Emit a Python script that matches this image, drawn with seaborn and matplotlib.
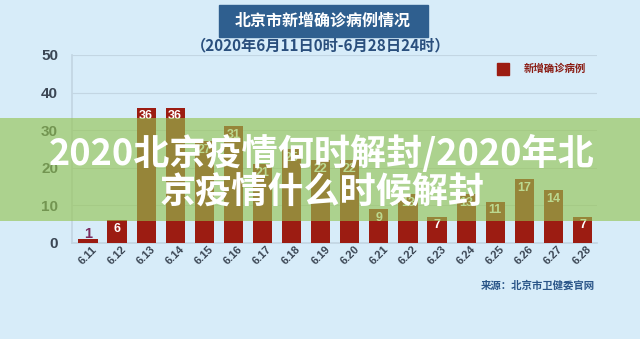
import matplotlib
matplotlib.use("Agg")
import matplotlib.pyplot as plt
import seaborn as sns
import pandas as pd
from matplotlib.patches import Rectangle

dates = ["6.11", "6.12", "6.13", "6.14", "6.15", "6.16", "6.17", "6.18", "6.19",
         "6.20", "6.21", "6.22", "6.23", "6.24", "6.25", "6.26", "6.27", "6.28"]
cases = [1, 6, 36, 36, 27, 31, 21, 25, 22, 22, 9, 13, 7, 13, 11, 17, 14, 7]
yticks = [0, 10, 20, 30, 40, 50]

title = "北京市新增确诊病例情况"
subtitle = "（2020年6月11日0时-6月28日24时）"
legend_label = "新增确诊病例"
source = "来源：北京市卫健委官网"
overlay_text = "2020北京疫情何时解封/2020年北\n京疫情什么时候解封"

sns.set_theme(style="white")
plt.rcParams['font.family'] = ['Noto Sans CJK SC', 'DejaVu Sans']

BG = "#d7ecf9"
BAR = "#9c1c12"
TXT = "#3b4654"

df = pd.DataFrame({"date": dates, "cases": cases})

fig = plt.figure(figsize=(6.4, 3.39), dpi=100, facecolor=BG)
ax = fig.add_axes([72/640, 1-243/339, (597-72)/640, (243-55)/339])
ax.set_facecolor(BG)

sns.barplot(data=df, x="date", y="cases", color=BAR, width=0.66, ax=ax,
            saturation=1, edgecolor="none", zorder=3)

ax.set_ylim(0, 50)
ax.set_xlim(-0.55, 17.5)
ax.set_yticks(yticks)
ax.set_yticklabels([str(v) for v in yticks], fontsize=11, fontweight="bold",
                   color=TXT, family="Liberation Sans")
ax.yaxis.grid(True, color="#c3d6e3", linewidth=0.8)
ax.set_axisbelow(True)
for s in ["top", "right"]:
    ax.spines[s].set_visible(False)
ax.spines["left"].set_color("#c3d6e3")
ax.spines["bottom"].set_color("#c3d6e3")
ax.tick_params(axis="y", length=0, pad=10)
ax.tick_params(axis="x", length=0, pad=9)
ax.set_xlabel("")
ax.set_ylabel("")
ax.set_xticks(range(len(dates)))
ax.set_xticklabels(dates, rotation=45, fontsize=8, fontweight="bold", color=TXT,
                   family="Liberation Sans")
for lbl in ax.get_xticklabels():
    lbl.set_rotation_mode("anchor")
    lbl.set_ha("center")
    lbl.set_va("center")

for i, v in enumerate(cases):
    if v < 3:
        ax.text(i, v - 0.6, str(v), ha="center", va="bottom", fontsize=10.5,
                fontweight="bold", color="#7a2a5e", family="Liberation Sans", zorder=4)
    else:
        ax.text(i, v - 0.7, str(v), ha="center", va="top", fontsize=9,
                fontweight="bold", color="white", family="Liberation Sans", zorder=4)

# legend
fig.patches.append(Rectangle((497/640, 1-75/339), 12/640, 12/339,
                             transform=fig.transFigure, color=BAR, zorder=5))
fig.text(524/640, 1-69/339, legend_label, ha="left", va="center", fontsize=7.5,
         fontweight="bold", color="#8a1c14")

# title box
fig.patches.append(Rectangle((219/640, 1-37/339), 209/640, 32/339,
                             transform=fig.transFigure, color="#2f5f8f", zorder=5))
fig.text(323/640, 1-21/339, title, ha="center", va="center", fontsize=11.5,
         fontweight="bold", color="white", zorder=6)
fig.text(321/640, 1-45/339, subtitle, ha="center", va="center", fontsize=11,
         fontweight="bold", color="#2a4f7d")

fig.text(595/640, 1-286/339, source, ha="right", va="center", fontsize=7.5,
         fontweight="bold", color="#2a5588")

# green overlay band
fig.patches.append(Rectangle((0, 1-221/339), 1, (221-118)/339,
                             transform=fig.transFigure, facecolor="#94c450",
                             alpha=0.63, edgecolor="none", zorder=10))
fig.text(322/640, 1-173/339, overlay_text, ha="center", va="center", fontsize=26,
         fontweight="bold", color="white", linespacing=1.05, zorder=11)

fig.savefig("out.png", dpi=100, facecolor=BG)
